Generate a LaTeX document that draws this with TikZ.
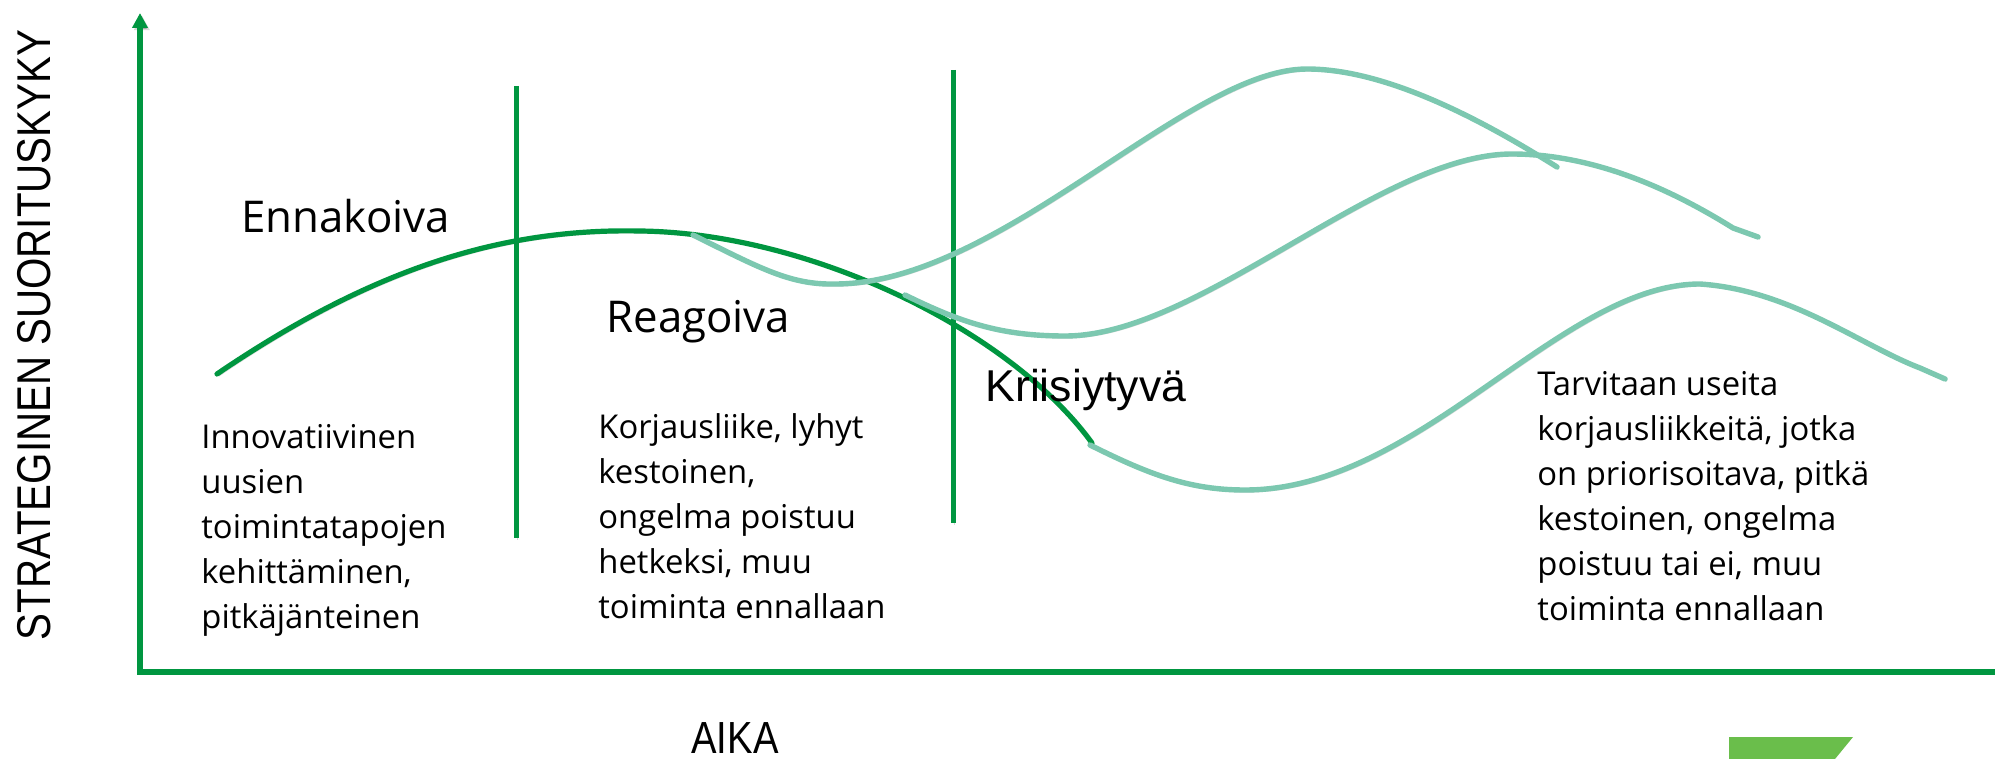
\documentclass[tikz,border=0pt]{standalone}
\usepackage{fontspec}
\setmainfont{Open Sans}
\newfontfamily\arialf{Liberation Sans}
\newfontfamily\narrowf[FakeStretch=0.85]{Liberation Sans}
\usetikzlibrary{arrows.meta}
\definecolor{dgreen}{RGB}{0,150,64}
\definecolor{mint}{RGB}{124,200,176}
\definecolor{lgreen}{RGB}{106,190,75}
\tikzset{
  shad/.style={preaction={draw=black!70,draw opacity=0.22,transform canvas={shift={(0.9pt,-1.1pt)}}}},
  dcurve/.style={draw=dgreen,line width=2.6pt,line cap=round,shad},
  lcurve/.style={draw=mint,line width=2.7pt,line cap=round,line join=round,shad},
  vline/.style={draw=dgreen,line width=2.5pt,shad},
  axisline/.style={draw=dgreen,line width=2.8pt,line join=miter,shad},
  body/.style={inner sep=0pt,align=left,anchor=north west,font=\fontsize{16.4}{22.5}\selectfont},
  head/.style={inner sep=0pt,anchor=base west,font=\fontsize{21.9}{26}\selectfont},
}
\begin{document}
\begin{tikzpicture}[x=0.5pt,y=-0.5pt]
\useasboundingbox (0,0) rectangle (1995,759);
% axes
\coordinate (ytop) at (140,13);
\coordinate (orig) at (140,672);
\coordinate (xend) at (1995,672);
\draw[axisline,{Triangle[width=7.5pt,length=7.5pt]}-] (ytop) -- (orig) -- (xend);
% phase separators
\coordinate (v1a) at (516,86);  \coordinate (v1b) at (516,538);
\coordinate (v2a) at (953,70);  \coordinate (v2b) at (953,523);
\draw[vline] (v1a) -- (v1b);
\draw[vline] (v2a) -- (v2b);
% main dark curve
\draw[dcurve] (217,374) .. controls (370,270) and (500,228) .. (640,231)
  .. controls (810,233) and (1010,330) .. (1092,443);
% light curves
\draw[lcurve] (693,235) .. controls (760,268) and (790,285) .. (835,284)
  .. controls (1000,284) and (1187,69) .. (1307,69)
  .. controls (1390,69) and (1490,125) .. (1557,167);
\draw[lcurve] (905,295) .. controls (960,322) and (1000,336) .. (1065,336)
  .. controls (1200,336) and (1380,154) .. (1512,154)
  .. controls (1600,154) and (1680,195) .. (1733,228) -- (1758,237);
\draw[lcurve] (1090,445) .. controls (1150,475) and (1190,490) .. (1245,490)
  .. controls (1420,490) and (1560,284) .. (1700,284)
  .. controls (1790,290) and (1860,345) .. (1920,368) -- (1945,379);
% headings
\node[head] (enn) at (241,233) {Ennakoiva};
\node[head] (rea) at (606,332) {Reagoiva};
\node[inner sep=0pt,anchor=base west,font=\arialf\fontsize{22.3}{26}\selectfont] (kri) at (985,401) {Kriisiytyvä};
% text blocks
\node[body] (t1) at (201,418) {\rule{0pt}{15pt}Innovatiivinen\\uusien\\toimintatapojen\\kehittäminen,\\pitkäjänteinen};
\node[body] (t2) at (598,408) {\rule{0pt}{15pt}Korjausliike, lyhyt\\kestoinen,\\ongelma poistuu\\hetkeksi, muu\\toiminta ennallaan};
\node[body] (t3) at (1537,365) {\rule{0pt}{15pt}Tarvitaan useita\\korjausliikkeitä, jotka\\on priorisoitava, pitkä\\kestoinen, ongelma\\poistuu tai ei, muu\\toiminta ennallaan};
% axis labels
\node[inner sep=0pt,rotate=90,font=\narrowf\fontsize{23.7}{28}\selectfont] (ylab) at (34,335) {STRATEGINEN SUORITUSKYKY};
\node[inner sep=0pt,anchor=base,font=\narrowf\fontsize{22.5}{27}\selectfont] (xlab) at (735,753) {AIKA};
% logo fragment
\fill[lgreen] (1729,737) -- (1853,737) -- (1835,759) -- (1729,759) -- cycle;
\end{tikzpicture}
\end{document}
